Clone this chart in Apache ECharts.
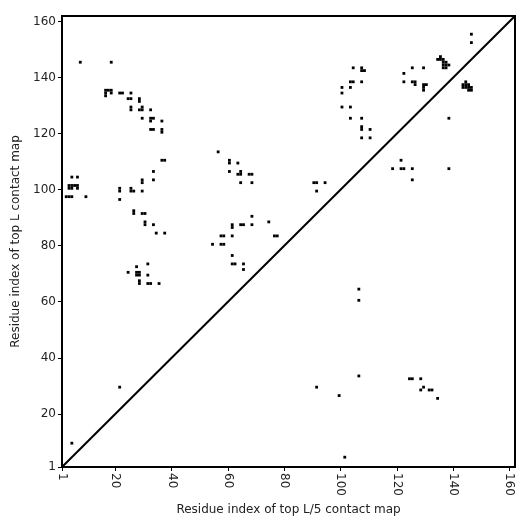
<!DOCTYPE html>
<html>
<head>
<meta charset="utf-8">
<title>Contact map</title>
<script src="https://cdn.jsdelivr.net/npm/echarts@6/dist/echarts.min.js"></script>
<style>
  html, body { margin: 0; padding: 0; background: #fff; }
  #chart { width: 531px; height: 531px; }
</style>
</head>
<body>
<div id="chart"></div>
<script>
// residue range and tick labels
const axisMin = 1;
const axisMax = 162;
const tickValues = [1, 20, 40, 60, 80, 100, 120, 140, 160];

// [i, j] pairs above the diagonal (top L contacts)
const topLContacts = [
  [7, 145], [18, 145],
  [16, 135], [17, 135], [18, 135], [16, 134], [18, 134], [16, 133],
  [21, 134], [22, 134], [25, 134], [24, 132], [25, 132], [28, 132], [28, 131],
  [25, 129], [25, 128], [29, 129], [29, 128], [28, 128], [32, 128],
  [29, 125], [32, 125], [33, 125], [32, 124], [36, 124],
  [32, 121], [33, 121], [36, 121], [36, 120],
  [36, 110], [37, 110], [33, 106], [29, 103], [29, 102], [33, 103],
  [4, 104], [6, 104],
  [3, 101], [4, 101], [5, 101], [6, 101], [3, 100], [4, 100], [6, 100],
  [2, 97], [3, 97], [4, 97], [9, 97],
  [21, 100], [21, 99], [25, 100], [25, 99], [26, 99], [29, 99], [21, 96],
  [26, 92], [26, 91], [29, 91], [30, 91], [30, 88], [30, 87], [33, 87],
  [34, 84], [37, 84],
  [27, 72], [31, 73], [24, 70], [27, 70], [28, 70], [27, 69], [28, 69], [31, 69],
  [28, 67], [28, 66], [31, 66], [32, 66], [35, 66],
  [21, 29], [4, 9],
  [56, 113], [60, 110], [60, 109], [63, 109], [60, 106],
  [64, 106], [64, 105], [63, 105], [67, 105], [68, 105], [64, 102], [68, 102],
  [68, 90], [61, 87], [61, 86], [64, 87], [65, 87], [68, 87], [74, 88],
  [57, 83], [58, 83], [61, 83], [76, 83], [77, 83],
  [54, 80], [57, 80], [58, 80], [61, 76], [61, 73], [62, 73], [65, 73], [65, 71],
  [90, 102], [91, 102], [94, 102], [91, 99],
  [104, 143], [107, 143], [107, 142], [108, 142],
  [103, 138], [104, 138], [107, 138], [100, 136], [103, 136], [100, 134],
  [100, 129], [103, 129], [103, 125], [107, 125],
  [107, 122], [107, 121], [110, 121], [107, 118], [110, 118],
  [122, 141], [122, 138], [125, 138], [126, 138], [126, 137],
  [129, 137], [130, 137], [129, 136], [129, 135],
  [125, 143], [129, 143],
  [135, 147], [134, 146], [135, 146], [136, 146], [136, 145], [137, 145],
  [136, 144], [137, 144], [138, 144], [136, 143], [137, 143],
  [146, 155], [146, 152]
];

// [i, j] pairs below the diagonal (top L/5 contacts)
const topL5Contacts = [
  [121, 110], [118, 107], [121, 107], [122, 107], [125, 107], [125, 103], [138, 107],
  [138, 125],
  [144, 138], [143, 137], [144, 137], [145, 137], [143, 136], [144, 136], [145, 136],
  [146, 136], [145, 135], [146, 135],
  [106, 64], [106, 60], [106, 33], [124, 32], [125, 32], [128, 32],
  [91, 29], [129, 29], [128, 28], [131, 28], [132, 28], [99, 26], [134, 25], [101, 4]
];

const diagonal = [[axisMin, axisMin], [axisMax, axisMax]];

const chart = echarts.init(document.getElementById('chart'));

// one residue cell spans [i, i+1] on both axes
function renderCell(params, api) {
  const x = api.value(0);
  const y = api.value(1);
  const topLeft = api.coord([x, y + 1]);
  const size = api.size([1, 1]);
  return {
    type: 'rect',
    shape: { x: topLeft[0], y: topLeft[1], width: size[0], height: size[1] },
    style: { fill: '#000' }
  };
}

const labelColor = '#222';
const fontFamily = 'DejaVu Sans';

const option = {
  animation: false,
  grid: {
    left: 62,
    top: 16,
    width: 453,
    height: 451,
    show: true,
    borderColor: '#000',
    borderWidth: 2,
    backgroundColor: '#fff'
  },
  xAxis: {
    type: 'value',
    min: axisMin,
    max: axisMax,
    name: 'Residue index of top L/5 contact map',
    nameLocation: 'middle',
    nameGap: 36,
    nameTextStyle: { color: labelColor, fontSize: 12, fontFamily: fontFamily },
    axisLine: { show: false },
    splitLine: { show: false },
    axisTick: { show: true, customValues: tickValues, length: 4, lineStyle: { color: '#000', width: 1 } },
    axisLabel: {
      customValues: tickValues,
      rotate: -90,
      margin: 6,
      fontSize: 12,
      color: labelColor,
      fontFamily: fontFamily
    }
  },
  yAxis: {
    type: 'value',
    min: axisMin,
    max: axisMax,
    name: 'Residue index of top L contact map',
    nameLocation: 'middle',
    nameGap: 36,
    nameTextStyle: { color: labelColor, fontSize: 12, fontFamily: fontFamily },
    axisLine: { show: false },
    splitLine: { show: false },
    axisTick: { show: true, customValues: tickValues, length: 4, lineStyle: { color: '#000', width: 1 } },
    axisLabel: {
      customValues: tickValues,
      margin: 6,
      fontSize: 12,
      color: labelColor,
      fontFamily: fontFamily
    }
  },
  series: [
    {
      name: 'diagonal',
      type: 'line',
      data: diagonal,
      symbol: 'none',
      lineStyle: { color: '#000', width: 2 },
      silent: true
    },
    {
      name: 'top L',
      type: 'custom',
      renderItem: renderCell,
      data: topLContacts
    },
    {
      name: 'top L/5',
      type: 'custom',
      renderItem: renderCell,
      data: topL5Contacts
    }
  ]
};

chart.setOption(option);
</script>
</body>
</html>
